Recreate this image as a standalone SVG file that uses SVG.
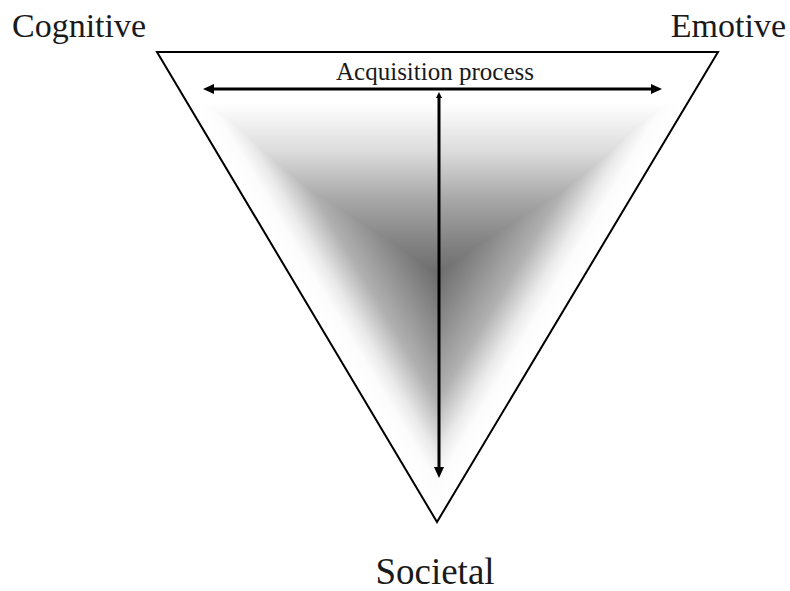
<svg xmlns="http://www.w3.org/2000/svg" width="790" height="591" viewBox="0 0 790 591">
  <style>
    .lbl { font-family: "Liberation Serif", "Times New Roman", serif; fill: #1a1a1a; }
    .shade { mix-blend-mode: lighten; }
    .conn { stroke: #000; stroke-width: 3; fill: none; }
  </style>
  <defs>
    <linearGradient id="gL" gradientUnits="userSpaceOnUse" x1="157" y1="52" x2="328.8" y2="-50.4">
      <stop offset="0" stop-color="#fff"/>
      <stop offset="0.1" stop-color="#fcfcfc"/>
      <stop offset="0.17" stop-color="#eaeaea"/>
      <stop offset="0.31" stop-color="#b0b0b0"/>
      <stop offset="0.49" stop-color="#8a8a8a"/>
      <stop offset="0.62" stop-color="#707070"/>
      <stop offset="1" stop-color="#5a5a5a"/>
    </linearGradient>
    <linearGradient id="gR" gradientUnits="userSpaceOnUse" x1="718" y1="52" x2="546.4" y2="-50.6">
      <stop offset="0" stop-color="#fff"/>
      <stop offset="0.1" stop-color="#fcfcfc"/>
      <stop offset="0.17" stop-color="#eaeaea"/>
      <stop offset="0.31" stop-color="#b0b0b0"/>
      <stop offset="0.49" stop-color="#8a8a8a"/>
      <stop offset="0.62" stop-color="#707070"/>
      <stop offset="1" stop-color="#5a5a5a"/>
    </linearGradient>
    <linearGradient id="gT" gradientUnits="userSpaceOnUse" x1="437" y1="52" x2="437" y2="352">
      <stop offset="0" stop-color="#fff"/>
      <stop offset="0.17" stop-color="#fff"/>
      <stop offset="0.23" stop-color="#f2f2f2"/>
      <stop offset="0.33" stop-color="#dcdcdc"/>
      <stop offset="0.49" stop-color="#a8a8a8"/>
      <stop offset="0.63" stop-color="#848484"/>
      <stop offset="0.77" stop-color="#666"/>
      <stop offset="1" stop-color="#5a5a5a"/>
    </linearGradient>
    <marker id="ah" markerUnits="userSpaceOnUse" markerWidth="12" markerHeight="10" refX="2" refY="5" orient="auto-start-reverse">
      <path d="M0,0 L11,5 L0,10 z" fill="#000"/>
    </marker>
    <marker id="ahs" markerUnits="userSpaceOnUse" markerWidth="8" markerHeight="8" refX="1" refY="4" orient="auto-start-reverse">
      <path d="M0,1 L6,4 L0,7 z" fill="#000"/>
    </marker>
  </defs>

  <g id="triangle">
    <g style="isolation:isolate">
      <polygon points="157,52 718,52 437,522" fill="url(#gT)"/>
      <polygon class="shade" points="157,52 718,52 437,522" fill="url(#gL)"/>
      <polygon class="shade" points="157,52 718,52 437,522" fill="url(#gR)"/>
    </g>
    <polygon points="157,52 718,52 437,522" fill="none" stroke="#000" stroke-width="2" stroke-linejoin="miter"/>
  </g>

  <g id="connectors">
    <line class="conn" x1="212" y1="89" x2="653" y2="89" marker-start="url(#ah)" marker-end="url(#ah)"/>
    <line class="conn" x1="439" y1="97" x2="439" y2="469" marker-start="url(#ahs)" marker-end="url(#ah)"/>
  </g>

  <g id="label-acquisition">
    <text class="lbl" x="435" y="80" font-size="25" text-anchor="middle">Acquisition process</text>
  </g>
  <g id="node-cognitive">
    <text class="lbl" x="12" y="37" font-size="34">Cognitive</text>
  </g>
  <g id="node-emotive">
    <text class="lbl" x="786" y="37" font-size="34" text-anchor="end">Emotive</text>
  </g>
  <g id="node-societal">
    <text class="lbl" x="435" y="584" font-size="37" text-anchor="middle">Societal</text>
  </g>
</svg>
